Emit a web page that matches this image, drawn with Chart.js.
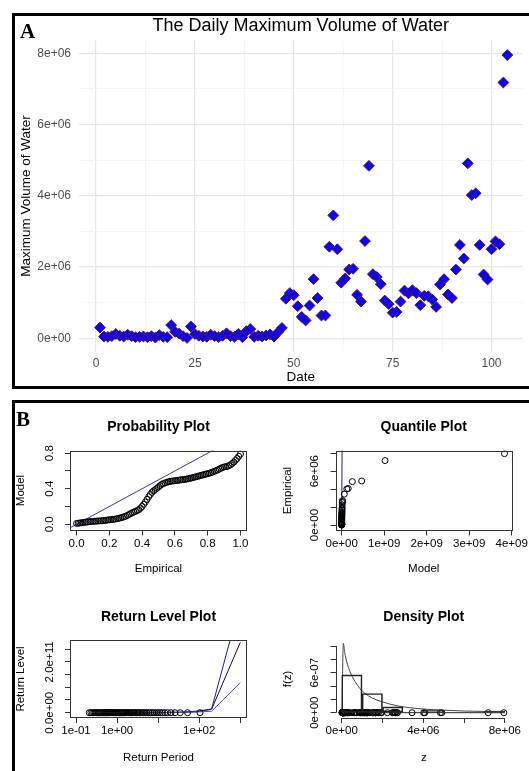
<!DOCTYPE html>
<html><head><meta charset="utf-8">
<script src="https://cdn.jsdelivr.net/npm/chart.js@4.4.1/dist/chart.umd.min.js"></script>
<style>
html,body{margin:0;padding:0;background:#fff;}
body{width:529px;height:771px;position:relative;overflow:hidden;}
canvas{position:absolute;}
.frame{position:absolute;border-color:#000;border-style:solid;box-sizing:border-box;pointer-events:none;}
.lab{position:absolute;font-family:'Liberation Serif','Times New Roman',serif;font-weight:bold;font-size:21px;line-height:21px;color:#000;}
</style></head><body>
<canvas id="cA" width="529" height="388" style="left:0;top:0"></canvas>
<canvas id="cP" width="265" height="182" style="left:0;top:403px"></canvas>
<canvas id="cQ" width="264" height="182" style="left:265px;top:403px"></canvas>
<canvas id="cR" width="265" height="183" style="left:0;top:588px"></canvas>
<canvas id="cD" width="264" height="183" style="left:265px;top:588px"></canvas>
<div class="frame" style="left:12px;top:13px;width:517px;height:376px;border-width:3px 0 3px 3px"></div>
<div class="frame" style="left:12px;top:400px;width:517px;height:371px;border-width:3px 0 0 3px"></div>
<div class="lab" style="left:20px;top:21px">A</div>
<div class="lab" style="left:16px;top:409px">B</div>
<script>
// ---------------- Panel A data ----------------
const dates = [1,2,3,4,5,6,7,8,9,10,11,12,13,14,15,16,17,18,19,20,21,22,23,24,25,26,27,28,29,30,
  31,32,33,34,35,36,37,38,39,40,41,42,43,44,45,46,47,48,49,50,51,52,53,54,55,56,57,58,59,60,
  61,62,63,64,65,66,67,68,69,70,71,72,73,74,75,76,77,78,79,80,81,82,83,84,85,86,87,88,89,90,
  91,92,93,94,95,96,97,98,99,100,101,102,103,104];
const volume = [300000,50000,40000,60000,120000,70000,50000,100000,60000,30000,
  40000,50000,30000,60000,20000,90000,40000,30000,370000,180000,
  130000,60000,10000,330000,120000,70000,50000,40000,100000,60000,
  30000,70000,140000,60000,40000,120000,30000,200000,260000,40000,
  70000,50000,80000,110000,50000,170000,290000,1110000,1270000,1210000,
  900000,600000,500000,920000,1660000,1130000,640000,640000,2570000,3450000,
  2500000,1560000,1680000,1930000,1950000,1220000,1030000,2730000,4840000,1800000,
  1720000,1520000,1060000,960000,720000,740000,1030000,1340000,1260000,1350000,
  1270000,930000,1190000,1180000,1090000,880000,1510000,1660000,1230000,1130000,
  1930000,2620000,2240000,4910000,4020000,4070000,2620000,1790000,1650000,2500000,
  2720000,2640000,7180000,7950000];
const dateMajor = [0,25,50,75,100];
const dateMinor = [12.5,37.5,62.5,87.5];
const volMajor = [0,2000000,4000000,6000000,8000000];
const volMinor = [1000000,3000000,5000000,7000000];
const volMajorLabels = ['0e+00','2e+06','4e+06','6e+06','8e+06'];

// ---------------- Probability plot ----------------
const probEmpirical = [0.00,0.01,0.02,0.03,0.04,0.05,0.06,0.07,0.08,0.09,0.10,0.11,0.12,0.13,0.14,0.15,0.16,0.17,0.18,0.19,
  0.20,0.21,0.22,0.23,0.24,0.25,0.26,0.27,0.28,0.29,0.30,0.31,0.32,0.33,0.34,0.35,0.36,0.37,0.38,0.39,
  0.40,0.41,0.42,0.43,0.44,0.45,0.46,0.47,0.48,0.49,0.50,0.51,0.52,0.53,0.54,0.55,0.56,0.57,0.58,0.59,
  0.60,0.61,0.62,0.63,0.64,0.65,0.66,0.67,0.68,0.69,0.70,0.71,0.72,0.73,0.74,0.75,0.76,0.77,0.78,0.79,
  0.80,0.81,0.82,0.83,0.84,0.85,0.86,0.87,0.88,0.89,0.90,0.91,0.92,0.93,0.94,0.95,0.96,0.97,0.98,0.99,1.00];
const probModel = [0.010,0.012,0.015,0.017,0.020,0.022,0.025,0.027,0.030,0.031,0.032,0.034,0.035,0.037,0.038,0.039,0.040,0.043,0.045,0.048,
  0.050,0.052,0.055,0.057,0.060,0.064,0.068,0.073,0.078,0.084,0.090,0.100,0.110,0.120,0.130,0.138,0.145,0.155,0.165,0.180,
  0.200,0.225,0.250,0.280,0.310,0.335,0.360,0.375,0.390,0.405,0.420,0.435,0.450,0.458,0.465,0.472,0.478,0.482,0.485,0.488,
  0.490,0.492,0.495,0.498,0.500,0.502,0.505,0.508,0.512,0.516,0.520,0.525,0.530,0.535,0.540,0.545,0.550,0.555,0.560,0.565,
  0.570,0.575,0.580,0.588,0.595,0.602,0.610,0.620,0.630,0.638,0.645,0.648,0.650,0.660,0.670,0.685,0.700,0.720,0.740,0.765,0.790];
const probXTicks = [0,0.2,0.4,0.6,0.8,1.0];
const probXLabels = ['0.0','0.2','0.4','0.6','0.8','1.0'];
const probYTicks = [0,0.2,0.4,0.6,0.8];
const probYLabels = ['0.0','','0.4','','0.8'];
const refLine = [-10, 10];

// ---------------- Quantile plot ----------------
const qqModel = [0,0,0,0,0,0,0,0,0,0,0,0,0,0,0.5e6,1e6,1e6,2e6,2e6,3e6,3e6,4e6,4e6,5e6,6e6,7e6,8e6,10e6,12e6,15e6,18e6,20e6,
  60e6,120e6,155e6,250e6,470e6,1020e6,3830e6];
const qqEmpirical = [10000,20000,30000,40000,50000,60000,70000,90000,120000,150000,200000,260000,300000,370000,500000,600000,
  700000,800000,900000,1000000,1100000,1200000,1300000,1400000,1500000,1650000,1800000,1950000,2250000,2500000,2620000,2730000,
  3450000,4020000,4070000,4840000,4910000,7180000,7950000];
const qqXTicks = [0,1e9,2e9,3e9,4e9];
const qqXLabels = ['0e+00','1e+09','2e+09','3e+09','4e+09'];
const qqYTicks = [0,2e6,4e6,6e6,8e6];
const qqYLabels = ['0e+00','','','6e+06',''];
const qqRefLine = [-1e8, 1e8];

// ---------------- Return level plot ----------------
const rlPeriod = [1.5,10,50,100,200,1000];
const rlLevel  = [0,0.003e11,0.02e11,0.05e11,0.134e11,2.77e11];
const rlLower  = [0,0.002e11,0.01e11,0.03e11,0.055e11,1.18e11];
const rlUpper  = [0,0.004e11,0.03e11,0.07e11,0.146e11,4.35e11];
const rlEmpPeriod = [0.21,0.23,0.25,0.27,0.29,0.31,0.33,0.35,0.37,0.40,0.42,0.45,0.47,0.50,0.52,0.55,0.58,0.61,0.64,0.67,
  0.71,0.75,0.79,0.83,0.88,0.93,0.98,1.03,1.09,1.15,1.22,1.29,1.37,1.45,1.54,1.64,1.74,1.85,1.97,2.1,
  2.25,2.4,2.58,2.77,2.98,3.2,3.47,3.75,4.08,4.45,4.85,5.3,5.85,6.5,7.2,8.0,9.0,
  10.0,11.2,12.6,14.5,17.0,20.5,25.8,34.5,52.0,104.5];
const rlEmpLevel = [10000,10000,20000,20000,30000,30000,30000,30000,40000,40000,
  40000,40000,50000,50000,50000,50000,50000,60000,60000,60000,
  60000,60000,70000,70000,70000,80000,90000,100000,100000,110000,
  120000,120000,130000,140000,170000,180000,200000,260000,290000,300000,
  330000,370000,500000,600000,640000,720000,880000,920000,1030000,1110000,
  1220000,1340000,1510000,1660000,1930000,2240000,2570000,
  2640000,2720000,2730000,3450000,4020000,4070000,4840000,4910000,7180000,7950000];
const rlXTicks = [0.1,1,10,100,1000];
const rlXLabels = ['1e-01','1e+00','','1e+02',''];
const rlYTicks = [0,0.5e11,1.0e11,1.5e11,2.0e11,2.5e11];
const rlYLabels = ['0.0e+00','','','','2.0e+11',''];

// ---------------- Density plot ----------------
const histBreaks = [0,1e6,2e6,3e6,4e6,5e6,6e6,7e6,8e6];
const histDensity = [5.67e-7,2.88e-7,0.87e-7,0.10e-7,0.38e-7,0,0,0.19e-7];
const densZ = [0.02e6,0.05e6,0.08e6,0.15e6,0.25e6,0.4e6,0.65e6,0.9e6,1.14e6,1.5e6,1.96e6,2.78e6,4e6,5e6,6e6,8e6];
const densF = [0,7.0e-7,1.04e-6,9.0e-7,7.6e-7,6.2e-7,4.7e-7,3.6e-7,2.9e-7,2.2e-7,1.65e-7,1.0e-7,0.55e-7,0.38e-7,0.25e-7,0.15e-7];
const densXTicks = [0,2e6,4e6,6e6,8e6];
const densXLabels = ['0e+00','','4e+06','','8e+06'];
const densYTicks = [0,2e-7,4e-7,6e-7,8e-7,1e-6];
const densYLabels = ['0e+00','','','6e-07','',''];

// ---------------- common ----------------
Chart.defaults.font.family = "'Liberation Sans', Arial, sans-serif";
Chart.defaults.color = '#000';

const boxPlugin = {
  id: 'rbox',
  afterDatasetsDraw(chart) {
    const a = chart.chartArea, ctx = chart.ctx;
    ctx.save(); ctx.strokeStyle = '#333'; ctx.lineWidth = 1;
    ctx.strokeRect(Math.round(a.left) + 0.5, Math.round(a.top) + 0.5,
      Math.round(a.right - a.left) - 1, Math.round(a.bottom - a.top) - 1);
    ctx.restore();
  }
};
const axesPlugin = {
  id: 'raxes',
  afterDatasetsDraw(chart) {
    const a = chart.chartArea, ctx = chart.ctx, sx = chart.scales.x, sy = chart.scales.y;
    const xt = densXTicks, yt = densYTicks;
    ctx.save(); ctx.strokeStyle = '#333'; ctx.lineWidth = 1; ctx.beginPath();
    const by = Math.round(a.bottom) + 0.5, lx = Math.round(a.left) + 0.5;
    ctx.moveTo(sx.getPixelForValue(xt[0]), by); ctx.lineTo(sx.getPixelForValue(xt[xt.length - 1]), by);
    ctx.moveTo(lx, sy.getPixelForValue(yt[0])); ctx.lineTo(lx, sy.getPixelForValue(yt[yt.length - 1]));
    ctx.stroke(); ctx.restore();
  }
};

function rScale(s, isY) {
  return {
    type: s.type || 'linear', min: s.min, max: s.max, offset: false,
    afterBuildTicks: sc => { sc.ticks = s.ticks.map(v => ({ value: v })); },
    afterFit: sc => { if (isY) sc.width = s.size; else sc.height = s.size; },
    ticks: { autoSkip: false, minRotation: isY ? 90 : 0, maxRotation: isY ? 90 : 0,
      crossAlign: isY ? 'center' : 'near', padding: s.pad, color: '#000', font: { size: 11.5 },
      callback: (v, i) => s.labels[i] },
    grid: { offset: false, drawOnChartArea: false, drawTicks: true, tickLength: 5, color: '#333', lineWidth: 1 },
    border: { display: false },
    title: { display: true, text: s.title, color: '#000', font: { size: 11.5 },
      padding: isY ? { top: s.tpad, bottom: 0 } : { top: 0, bottom: s.tpad } }
  };
}
function rChart(id, datasets, o) {
  return new Chart(document.getElementById(id), {
    type: 'scatter',
    data: { datasets },
    plugins: o.plugins || [boxPlugin],
    options: {
      responsive: false, animation: false, events: [],
      layout: { padding: { left: 0, right: o.right, top: 0, bottom: 0 } },
      plugins: { legend: { display: false }, tooltip: { enabled: false },
        title: { display: true, text: o.title, fullSize: false, color: '#000',
          font: { size: 14, weight: 'bold' }, padding: { top: o.tp, bottom: o.tb } } },
      scales: { x: rScale(o.x, false), y: rScale(o.y, true) }
    }
  });
}
const circ = { pointStyle: 'circle', pointRadius: 3, pointBorderColor: '#000',
  pointBackgroundColor: 'rgba(0,0,0,0)', pointBorderWidth: 1, showLine: false };

// ---------------- Panel A chart ----------------
const isMajorX = v => dateMajor.includes(v);
const isMajorY = v => volMajor.includes(v);
new Chart(document.getElementById('cA'), {
  type: 'scatter',
  data: { datasets: [{
    data: volume.map((v, i) => ({ x: dates[i], y: v })),
    pointStyle: 'rectRot', pointRadius: 5.4, pointBackgroundColor: '#0d00f2',
    pointBorderColor: '#561050', pointBorderWidth: 1
  }] },
  options: {
    responsive: false, animation: false, events: [],
    layout: { padding: { left: 10, top: 15.2, right: 0, bottom: 0 } },
    plugins: { legend: { display: false }, tooltip: { enabled: false },
      title: { display: true, text: 'The Daily Maximum Volume of Water', fullSize: false, color: '#000',
        font: { size: 18, weight: 'normal' }, padding: { top: 0, bottom: 3.2 } } },
    scales: {
      x: { type: 'linear', min: -4.31, max: 107.86,
        afterBuildTicks: s => { s.ticks = dateMajor.concat(dateMinor).sort((a, b) => a - b).map(v => ({ value: v })); },
        afterFit: s => { s.height = 36; },
        grid: { drawTicks: false, color: c => (c.tick && isMajorX(c.tick.value)) ? '#e6e6e6' : '#f1f1f1',
          lineWidth: c => (c.tick && isMajorX(c.tick.value)) ? 1.2 : 0.8 },
        border: { display: false },
        ticks: { autoSkip: false, maxRotation: 0, color: '#4d4d4d', font: { size: 12 }, padding: 4.4,
          callback: v => isMajorX(v) ? String(v) : '' },
        title: { display: true, text: 'Date', color: '#000', font: { size: 13.5 }, padding: { top: 0, bottom: 2.2 } }
      },
      y: { type: 'linear', min: -385000, max: 8373000,
        afterBuildTicks: s => { s.ticks = volMajor.concat(volMinor).sort((a, b) => a - b).map(v => ({ value: v })); },
        afterFit: s => { s.width = 69; },
        grid: { drawTicks: false, color: c => (c.tick && isMajorY(c.tick.value)) ? '#e6e6e6' : '#f1f1f1',
          lineWidth: c => (c.tick && isMajorY(c.tick.value)) ? 1.2 : 0.8 },
        border: { display: false },
        ticks: { autoSkip: false, color: '#4d4d4d', font: { size: 12 }, padding: 8,
          callback: v => isMajorY(v) ? volMajorLabels[volMajor.indexOf(v)] : '' },
        title: { display: true, text: 'Maximum Volume of Water', color: '#000', font: { size: 13.5 }, padding: { top: 7.9, bottom: 0 } }
      }
    }
  }
});

// ---------------- Probability plot ----------------
rChart('cP', [
  Object.assign({ data: probEmpirical.map((e, i) => ({ x: e, y: probModel[i] })) }, circ),
  { data: refLine.map(v => ({ x: v, y: v })), showLine: true, pointRadius: 0, borderColor: '#3535b0', borderWidth: 1 }
], { title: 'Probability Plot', right: 18, tp: 15.6, tb: 15.1,
  x: { min: -0.04, max: 1.04, ticks: probXTicks, labels: probXLabels, size: 54.5, pad: 1, title: 'Empirical', tpad: 9.6 },
  y: { min: -0.07, max: 0.83, ticks: probYTicks, labels: probYLabels, size: 70, pad: 7, title: 'Model', tpad: 13.6 } });

// ---------------- Quantile plot ----------------
rChart('cQ', [
  Object.assign({ data: qqModel.map((m, i) => ({ x: m, y: qqEmpirical[i] })) }, circ),
  { data: qqRefLine.map(v => ({ x: v, y: v })), showLine: true, pointRadius: 0, borderColor: '#1a1a9e', borderWidth: 1 }
], { title: 'Quantile Plot', right: 17, tp: 15.6, tb: 15.1,
  x: { min: -0.146e9, max: 4.007e9, ticks: qqXTicks, labels: qqXLabels, size: 54.5, pad: 1, title: 'Model', tpad: 9.6 },
  y: { min: -0.6e6, max: 8.3e6, ticks: qqYTicks, labels: qqYLabels, size: 70.5, pad: -0.6, title: 'Empirical', tpad: 15.6 } });

// ---------------- Return level plot ----------------
rChart('cR', [
  Object.assign({ data: rlEmpPeriod.map((p, i) => ({ x: p, y: rlEmpLevel[i] })) }, circ),
  { data: rlPeriod.map((p, i) => ({ x: p, y: rlLower[i] })), showLine: true, pointRadius: 0, borderColor: '#5050c0', borderWidth: 1 },
  { data: rlPeriod.map((p, i) => ({ x: p, y: rlUpper[i] })), showLine: true, pointRadius: 0, borderColor: '#1a1aa8', borderWidth: 1 },
  { data: rlPeriod.map((p, i) => ({ x: p, y: rlLevel[i] })), showLine: true, pointRadius: 0, borderColor: '#111', borderWidth: 1 }
], { title: 'Return Level Plot', right: 18, tp: 20.3, tb: 14.9,
  x: { type: 'logarithmic', min: 0.0714, max: 1455, ticks: rlXTicks, labels: rlXLabels, size: 53, pad: 1, title: 'Return Period', tpad: 6.1 },
  y: { min: -0.209e11, max: 2.862e11, ticks: rlYTicks, labels: rlYLabels, size: 70, pad: -6, title: 'Return Level', tpad: 13.6 } });

// ---------------- Density plot ----------------
rChart('cD', [
  { type: 'bar', data: histDensity.map((d, i) => ({ x: (histBreaks[i] + histBreaks[i + 1]) / 2, y: d })),
    backgroundColor: 'rgba(0,0,0,0)', borderColor: '#222', borderWidth: 1, borderSkipped: false,
    barPercentage: 1, categoryPercentage: 1 },
  { data: [histBreaks[0], histBreaks[histBreaks.length - 1]].map(v => ({ x: v, y: 0 })), showLine: true,
    pointRadius: 0, borderColor: '#222', borderWidth: 1 },
  { data: densZ.map((z, i) => ({ x: z, y: densF[i] })), showLine: true, pointRadius: 0,
    borderColor: '#444', borderWidth: 1, cubicInterpolationMode: 'monotone' },
  Object.assign({ data: volume.map(v => ({ x: v, y: 0 })) }, circ)
], { title: 'Density Plot', right: 17, tp: 20.3, tb: 14.9, plugins: [axesPlugin],
  x: { min: -0.304e6, max: 8.35e6, ticks: densXTicks, labels: densXLabels, size: 53, pad: 1, title: 'z', tpad: 6.1 },
  y: { min: -0.795e-7, max: 10.9e-7, ticks: densYTicks, labels: densYLabels, size: 70.5, pad: -0.6, title: 'f(z)', tpad: 15.6 } });
</script>
</body></html>
